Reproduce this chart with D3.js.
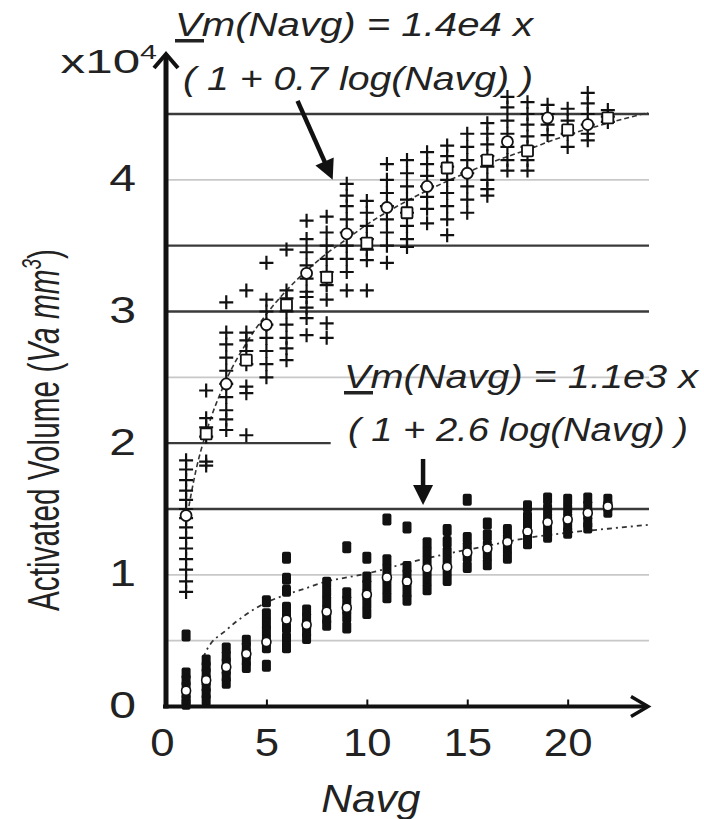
<!DOCTYPE html>
<html><head><meta charset="utf-8">
<script src="https://cdn.jsdelivr.net/npm/d3@7"></script>
<style>body{margin:0;background:#fff}svg{display:block}</style>
</head><body>
<svg id="c" width="704" height="819"></svg>
<script>
// ---------- data (values in units of 10^4) ----------
const navg = [1,2,3,4,5,6,7,8,9,10,11,12,13,14,15,16,17,18,19,20,21,22];
const plusValues = [
  [1.87,1.8,1.72,1.64,1.57,1.5,1.43,1.36,1.28,1.2,1.12,1.04,0.95,0.87],
  [2.4,2.19,2.12,2.05,1.86,1.83],
  [3.07,2.84,2.75,2.65,2.55,2.45,2.35,2.25,2.18,2.1],
  [3.16,2.84,2.78,2.7,2.6,2.43,2.38,2.06],
  [3.37,3.09,3.0,2.9,2.8,2.7,2.6,2.5],
  [3.47,3.16,3.1,3.0,2.9,2.8,2.72,2.63],
  [3.69,3.55,3.45,3.35,3.25,3.15,3.11,3.03,2.95,2.82],
  [3.72,3.6,3.5,3.4,3.3,3.2,3.09,2.91,2.8],
  [3.97,3.88,3.8,3.7,3.6,3.5,3.4,3.3,3.16],
  [3.84,3.75,3.65,3.55,3.47,3.39,3.16],
  [4.12,4.0,3.9,3.8,3.7,3.6,3.5,3.37],
  [4.15,4.05,3.95,3.85,3.75,3.65,3.55,3.49],
  [4.21,4.12,4.03,3.95,3.87,3.78,3.67],
  [4.26,4.18,4.1,4.0,3.9,3.8,3.7,3.58],
  [4.35,4.25,4.15,4.05,3.95,3.85,3.75],
  [4.43,4.35,4.27,4.18,4.1,4.0,3.93,3.88],
  [4.63,4.55,4.45,4.35,4.25,4.15,4.07],
  [4.59,4.5,4.42,4.33,4.25,4.15,4.07],
  [4.57,4.5,4.42,4.34],
  [4.54,4.45,4.35,4.25],
  [4.66,4.58,4.5,4.42,4.35,4.3],
  [4.53,4.48,4.44]
];
const plusMeans = [1.45,2.07,2.45,2.63,2.9,3.05,3.29,3.26,3.59,3.52,3.79,3.75,3.95,4.09,4.05,4.15,4.29,4.22,4.47,4.38,4.42,4.47];
const dotValues = [
  [0.54,0.25,0.2,0.15,0.1,0.05,0.02],
  [0.35,0.3,0.25,0.2,0.15,0.1,0.05],
  [0.44,0.38,0.33,0.28,0.23,0.18],
  [0.5,0.45,0.4,0.35,0.3],
  [0.8,0.7,0.63,0.57,0.5,0.45,0.31],
  [1.13,0.97,0.88,0.75,0.68,0.6,0.52,0.45],
  [0.73,0.67,0.62,0.57,0.52],
  [0.94,0.87,0.8,0.73,0.67,0.62],
  [1.21,0.86,0.8,0.74,0.68,0.6],
  [1.13,0.98,0.92,0.85,0.78,0.71],
  [1.42,1.11,1.04,0.97,0.9,0.83],
  [1.36,1.06,1.0,0.94,0.87,0.81],
  [1.24,1.17,1.1,1.03,0.96,0.89],
  [1.34,1.25,1.17,1.1,1.03,0.96],
  [1.57,1.28,1.21,1.14,1.06],
  [1.39,1.3,1.22,1.15,1.08],
  [1.34,1.27,1.2,1.13],
  [1.52,1.44,1.37,1.3,1.24],
  [1.58,1.5,1.43,1.36,1.29],
  [1.57,1.5,1.43,1.37,1.32],
  [1.58,1.52,1.46,1.4,1.36],
  [1.57,1.52,1.48]
];
const dotMeans = [0.12,0.2,0.3,0.4,0.49,0.66,0.62,0.72,0.75,0.85,0.98,0.95,1.05,1.06,1.17,1.2,1.25,1.33,1.4,1.42,1.47,1.52];
const upperFitN = [1,1.5,2,3,4,5,6,7,8,9,10,12,14,16,18,20,22,24];
const upperFitV = [1.40,1.80,2.08,2.48,2.76,2.98,3.16,3.31,3.44,3.55,3.66,3.84,3.99,4.12,4.23,4.34,4.43,4.51];
const lowerFitN = [1.85,2,3,4,5,6,7,8,9,10,12,14,16,18,20,22,24];
const lowerFitV = [0.37,0.42,0.58,0.70,0.79,0.85,0.90,0.95,0.98,1.01,1.09,1.16,1.22,1.28,1.32,1.35,1.38];
const xTicks = [0,5,10,15,20];
const yTicks = [0,1,2,3,4];
const gridDark = [1.5,3,3.5,4.5];
const gridLight = [0.5,1,2.5,4];
const gridPartial = [2];
const eqUpper = ["Vm(Navg) = 1.4e4 x", "( 1 + 0.7 log(Navg) )"];
const eqLower = ["Vm(Navg) = 1.1e3 x", "( 1 + 2.6 log(Navg) )"];

// ---------- drawing ----------
const FONT = '"Liberation Sans", Arial, Helvetica, sans-serif';
const svg = d3.select("#c");
const x = d3.scaleLinear().domain([0,24]).range([166,648]);
const y = d3.scaleLinear().domain([0,4.5]).range([706.5,114]);

// gridlines
const grid = svg.append("g");
grid.selectAll(".gl").data(gridLight).join("line")
  .attr("x1", x(0)).attr("x2", x(24.05)).attr("y1", d=>y(d)).attr("y2", d=>y(d))
  .attr("stroke", "#c8c8c8").attr("stroke-width", 1.6);
grid.selectAll(".gd").data(gridDark).join("line")
  .attr("x1", x(0)).attr("x2", x(24.05)).attr("y1", d=>y(d)).attr("y2", d=>y(d))
  .attr("stroke", "#3a3a3a").attr("stroke-width", 2.4);
grid.selectAll(".gp").data(gridPartial).join("line")
  .attr("x1", x(0)).attr("x2", x(8.2)).attr("y1", d=>y(d)).attr("y2", d=>y(d))
  .attr("stroke", "#3a3a3a").attr("stroke-width", 2.4);

// fit curves
const line = d3.line().x(d=>x(d[0])).y(d=>y(d[1])).curve(d3.curveMonotoneX);
svg.append("path").datum(upperFitN.map((n,i)=>[n,upperFitV[i]]))
  .attr("d", line).attr("fill","none").attr("stroke","#333").attr("stroke-width",1.6)
  .attr("stroke-dasharray","5,3");
svg.append("path").datum(lowerFitN.map((n,i)=>[n,lowerFitV[i]]))
  .attr("d", line).attr("fill","none").attr("stroke","#333").attr("stroke-width",1.8)
  .attr("stroke-dasharray","5,4,2,4");

// plus markers (upper series)
const plusPts = [];
plusValues.forEach((vals,i)=>vals.forEach(v=>plusPts.push([navg[i], v])));
svg.append("g").selectAll("path").data(plusPts).join("path")
  .attr("transform", d=>`translate(${x(d[0])},${y(d[1])})`)
  .attr("d", "M-7,0H7M0,-7V7").attr("stroke","#111").attr("stroke-width",2.2)
  .attr("fill","none");

// filled markers (lower series)
const dotPts = [];
dotValues.forEach((vals,i)=>vals.forEach(v=>dotPts.push([navg[i], v])));
svg.append("g").selectAll("rect").data(dotPts).join("rect")
  .attr("x", d=>x(d[0])-4.5).attr("y", d=>y(d[1])-6).attr("width",9).attr("height",12)
  .attr("rx",2).attr("fill","#111");

// means
svg.append("g").selectAll("rect").data(plusMeans).join("rect")
  .attr("x",(d,i)=>x(navg[i])-5.5).attr("y",d=>y(d)-5.5).attr("width",11).attr("height",11)
  .attr("rx",(d,i)=> i%2 ? 1 : 5.5)
  .attr("fill","#fff").attr("stroke","#111").attr("stroke-width",1.8);
svg.append("g").selectAll("circle").data(dotMeans).join("circle")
  .attr("cx",(d,i)=>x(navg[i])).attr("cy",d=>y(d)).attr("r",4.5)
  .attr("fill","#fff").attr("stroke","#111").attr("stroke-width",1.6);

// x axis
const xAxis = svg.append("g").attr("transform",`translate(0,${y(0)})`)
  .call(d3.axisBottom(x).tickValues(xTicks).tickSize(-7).tickFormat(d3.format("d")));
xAxis.select(".domain").remove();
xAxis.selectAll(".tick line").attr("stroke","#111").attr("stroke-width",2)
  .attr("display",d=> d===0 ? "none" : null);
xAxis.selectAll(".tick text").attr("y",0).attr("dy","50px")
  .attr("transform",d=> d===0 ? "translate(-4,0) scale(1.15,1)" : "scale(1.15,1)")
  .attr("font-family",FONT).attr("font-size",38).attr("fill","#222");

// y axis
const yAxis = svg.append("g").attr("transform",`translate(${x(0)},0)`)
  .call(d3.axisLeft(y).tickValues(yTicks).tickSize(0).tickPadding(23).tickFormat(d3.format("d")));
yAxis.select(".domain").remove();
yAxis.selectAll(".tick text").attr("dy","11px")
  .attr("transform","scale(1.3,1)")
  .attr("font-family",FONT).attr("font-size",37).attr("fill","#222");

// axis lines with arrows
svg.append("line").attr("x1",x(0)-3).attr("x2",x(24)-2).attr("y1",y(0)).attr("y2",y(0))
  .attr("stroke","#111").attr("stroke-width",4);
svg.append("path").attr("d",`M${x(24)-17},${y(0)-10}L${x(24)},${y(0)}L${x(24)-17},${y(0)+10}`)
  .attr("fill","none").attr("stroke","#111").attr("stroke-width",3.5).attr("stroke-linejoin","miter");
svg.append("line").attr("x1",x(0)).attr("x2",x(0)).attr("y1",y(0)+2).attr("y2",56)
  .attr("stroke","#111").attr("stroke-width",5);
svg.append("path").attr("d",`M${x(0)-12},${68}L${x(0)},${54}L${x(0)+12},${68}`)
  .attr("fill","none").attr("stroke","#111").attr("stroke-width",4);

// x10^4
const mult = svg.append("text").attr("transform","translate(157,73) scale(1.45,1)")
  .attr("text-anchor","end").attr("font-family",FONT).attr("fill","#222");
mult.append("tspan").attr("font-size",34).text("x10");
mult.append("tspan").attr("font-size",21).attr("dy",-14).text("4");

// axis titles
svg.append("text").attr("x",x(10.2)).attr("y",812).attr("text-anchor","middle")
  .attr("font-family",FONT).attr("font-style","italic").attr("font-size",38)
  .attr("fill","#222").attr("transform",`translate(${x(10.2)},0) scale(1.12,1) translate(${-x(10.2)},0)`)
  .text("Navg");
const yt = svg.append("text").attr("transform","translate(59,430) rotate(-90)")
  .attr("text-anchor","middle").attr("font-family",FONT).attr("font-size",44)
  .attr("fill","#222").attr("textLength",362).attr("lengthAdjust","spacingAndGlyphs");
yt.append("tspan").text("Activated Volume (");
yt.append("tspan").attr("font-style","italic").text("Va mm");
yt.append("tspan").attr("font-style","italic").attr("font-size",28).attr("dy",-18).text("3");
yt.append("tspan").attr("dy",18).text(")");

// equations
function eq(lines, x0, b0, lens, dx2, gap){
  lines.forEach((t,i)=>{
    svg.append("text").attr("x", x0 + (i? dx2:0)).attr("y", b0 + i*gap)
      .attr("font-family",FONT).attr("font-style","italic").attr("font-size",34)
      .attr("fill","#222").attr("textLength",lens[i]).attr("lengthAdjust","spacingAndGlyphs")
      .text(t);
  });
  svg.append("rect").attr("x",x0).attr("y",b0+3).attr("width",29).attr("height",3.5).attr("fill","#222");
}
eq(eqUpper, 175, 36, [358,350], 8, 54);
eq(eqLower, 344, 388, [354,340], 4, 53);

// annotation arrows
function arrow(n0,v0,n1,v1,w){
  const x0=x(n0),y0=y(v0),x1=x(n1),y1=y(v1);
  const L=Math.hypot(x1-x0,y1-y0), ux=(x1-x0)/L, uy=(y1-y0)/L;
  const hl=20, hw=10, bx=x1-ux*hl, by=y1-uy*hl;
  svg.append("line").attr("x1",x0).attr("y1",y0).attr("x2",bx+ux*2).attr("y2",by+uy*2)
    .attr("stroke","#111").attr("stroke-width",w);
  svg.append("path").attr("d",`M${x1},${y1}L${bx-uy*hw},${by+ux*hw}L${bx+uy*hw},${by-ux*hw}Z`)
    .attr("fill","#111");
}
arrow(6.55,4.6,8.3,4.0,4.5);
arrow(12.8,1.88,12.8,1.53,4.5);
</script>
</body></html>
